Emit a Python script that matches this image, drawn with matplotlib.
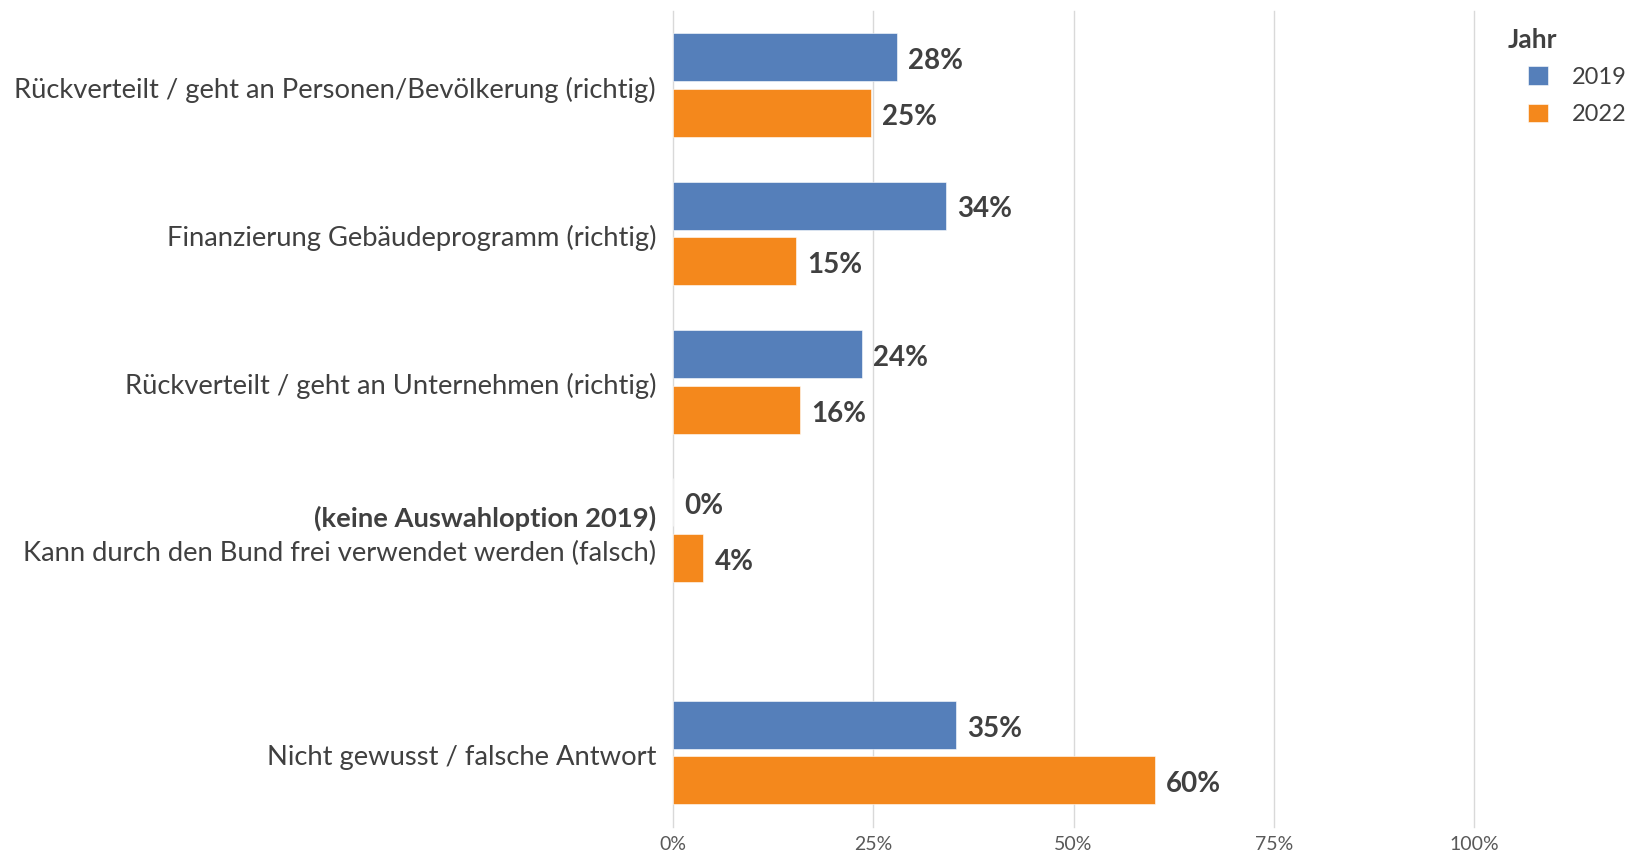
import numpy as np
import matplotlib
matplotlib.use('Agg')
import matplotlib.pyplot as plt
from matplotlib.transforms import ScaledTranslation

# 数据（百分比）
categories = ['Rückverteilt / geht an Personen/Bevölkerung (richtig)',
              'Finanzierung Gebäudeprogramm (richtig)',
              'Rückverteilt / geht an Unternehmen (richtig)',
              'Kann durch den Bund frei verwendet werden (falsch)',
              'Nicht gewusst / falsche Antwort']
cat_pos = [0, 1, 2, 3, 4.5]
note_label = '(keine Auswahloption 2019)'
years = ['2019', '2022']
vals_2019 = [28.0, 34.1, 23.6, 0.0, 35.3]
vals_2022 = [24.7, 15.4, 15.9, 3.8, 60.2]
x_ticks = [0, 25, 50, 75, 100]

BLUE = '#557fba'
ORANGE = '#f4881c'
TEXT = '#404040'
GRID = '#d9d9d9'

plt.rcParams['font.family'] = ['Lato', 'DejaVu Sans']

W, H, DPI = 1627, 852, 100
fig = plt.figure(figsize=(W / DPI, H / DPI), dpi=DPI)
ax = fig.add_axes([673 / W, 25.3 / H, (1474 - 673) / W, (841 - 25.3) / H])

pos = np.array(cat_pos)
h = 0.324
off = 0.188
b1 = ax.barh(pos - off, vals_2019, height=h, color=BLUE, edgecolor='white', linewidth=0.4,
             label=years[0], zorder=2)
b2 = ax.barh(pos + off, vals_2022, height=h, color=ORANGE, edgecolor='white', linewidth=0.4,
             label=years[1], zorder=2)

# 数值标签
for bars, vals in [(b1, vals_2019), (b2, vals_2022)]:
    texts = ax.bar_label(bars, labels=[f'{v:.0f}%' for v in vals], padding=7.9,
                         fontsize=20, fontweight='bold', color=TEXT)
    for t in texts:
        t.xyann = (t.xyann[0], -2.8)

ax.set_xlim(0, 100)
ax.set_ylim(5.0, -0.5)
ax.set_xticks(x_ticks)
ax.set_xticklabels([f'{t}%' for t in x_ticks])
ax.tick_params(axis='x', length=0, pad=7, labelsize=14, labelcolor='#595959')

ylabels = list(categories)
ylabels[3] = ''
ax.set_yticks(pos)
ax.set_yticklabels(ylabels)
ax.tick_params(axis='y', length=0, pad=12.2, labelsize=19.7, labelcolor=TEXT)
shift = ScaledTranslation(0, -2 / DPI, fig.dpi_scale_trans)
for lb in ax.get_yticklabels():
    lb.set_va('center_baseline')
    lb.set_transform(lb.get_transform() + shift)

# 两行标签（粗体说明 + 普通文本）
ax.annotate(note_label, xy=(0, pos[3]), xytext=(-17, 14), textcoords='offset pixels',
            ha='right', va='center_baseline', fontsize=19.7, fontweight='bold', color=TEXT)
ax.annotate(categories[3], xy=(0, pos[3]), xytext=(-17, -21), textcoords='offset pixels',
            ha='right', va='center_baseline', fontsize=19.7, color=TEXT)

ax.grid(axis='x', color=GRID, linewidth=1.0, zorder=0)
for gl in ax.get_xgridlines():
    gl.set_clip_on(False)
ax.set_axisbelow(True)
for s in ax.spines.values():
    s.set_visible(False)

# 图例
fig.text(1508 / W, 1 - 40 / H, 'Jahr', ha='left', va='center', fontsize=19,
         fontweight='bold', color=TEXT)
fig.legend(handles=[b1, b2], loc='upper left', bbox_to_anchor=(1528 / W, 1 - 66 / H),
           frameon=False, fontsize=17, labelcolor=TEXT, handlelength=0.85, handleheight=0.85,
           handletextpad=1.0, labelspacing=0.68, borderpad=0, borderaxespad=0)

plt.savefig('out.png', dpi=DPI, facecolor='white')
plt.close()
